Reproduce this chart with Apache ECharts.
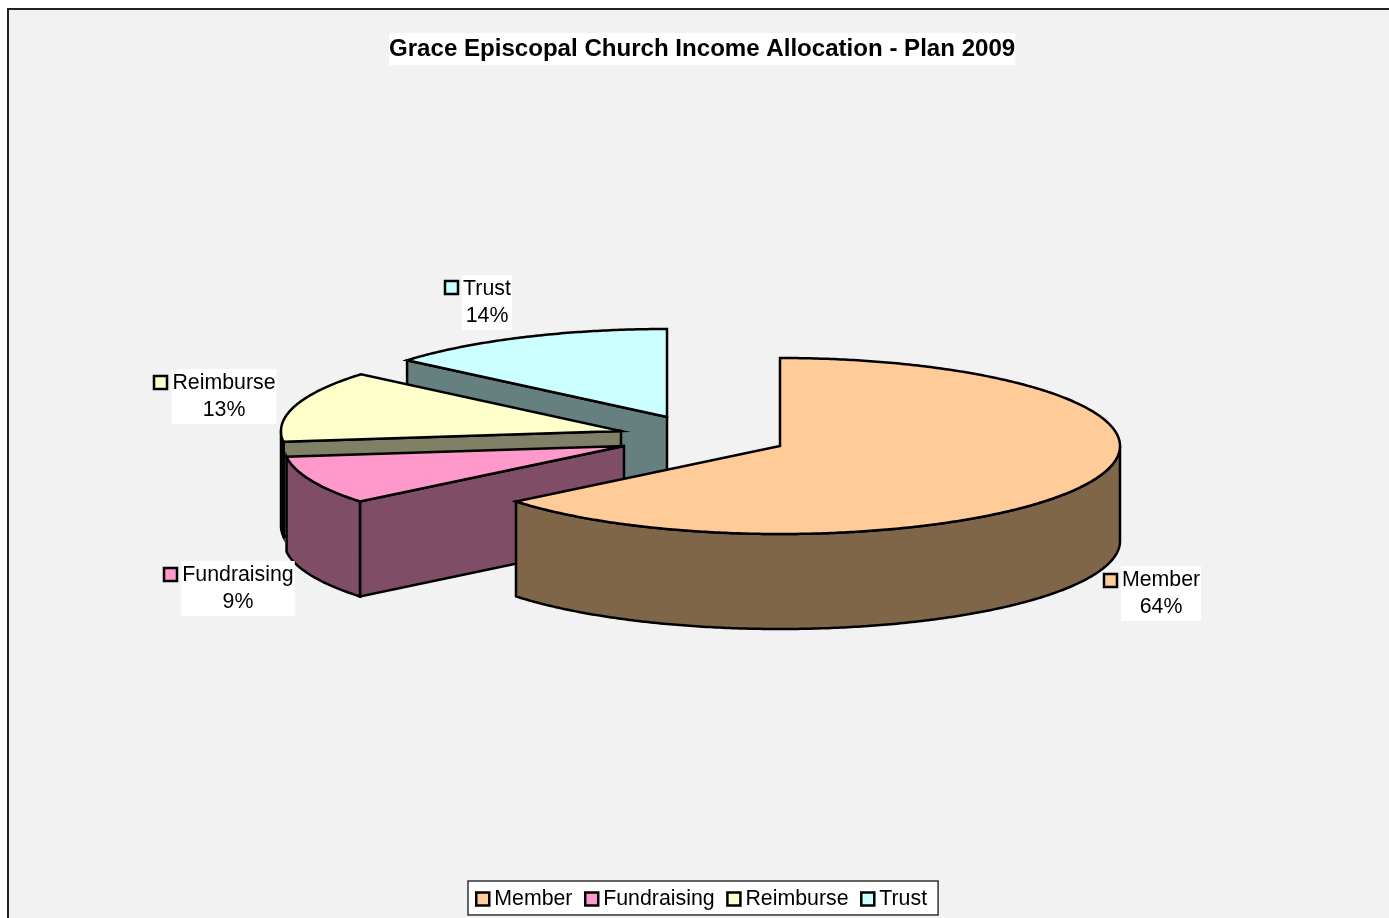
<!DOCTYPE html>
<html lang="en">
<head>
    <meta charset="UTF-8">
    <title>Grace Episcopal Church Income Allocation - Plan 2009</title>
    <script src="https://cdn.jsdelivr.net/npm/echarts@6/dist/echarts.min.js"></script>
    <style>
        html, body { margin: 0; padding: 0; background: #fff; }
    </style>
</head>
<body>
<div style="width:1389px;height:918px" id="myChart"></div>
<script type="text/javascript">
    // values (percent of income), clockwise from 12 o'clock
    // labels show them rounded: 64, 9, 13, 14
    var categories = ['Member', 'Fundraising', 'Reimburse', 'Trust'];
    var shares = [64.15, 8.9, 13.1, 13.85];

    // colours and layout, per slice
    var topColors = ['#FFCC99', '#FF99CC', '#FFFFCC', '#CCFFFF'];
    var sideColors = ['#806649', '#804D66', '#808066', '#668080'];
    var centers = [[780, 446], [624, 446], [621, 431], [667, 417]];
    var labelAnchors = [[1161, 566], [238, 561], [224, 369], [487, 275]]; // centre x, top
    var keyBoxes = [[1104, 574], [164, 568], [154, 376], [445, 281]];

    var RX = 340, RY = 88, DEPTH = 95;
    var FONT = '"Liberation Sans", Arial, sans-serif';
    var total = shares.reduce(function (a, b) { return a + b; }, 0);

    function rad(share) {
        return share / total * Math.PI * 2;
    }

    function rimPoint(c, angle, drop) {
        return [c[0] + RX * Math.sin(angle), c[1] - RY * Math.cos(angle) + drop];
    }

    function arcPoints(c, from, to, drop) {
        var pts = [];
        var n = Math.max(2, Math.ceil((to - from) / 0.01));
        for (var i = 0; i <= n; i++) {
            pts.push(rimPoint(c, from + (to - from) * i / n, drop));
        }
        return pts;
    }

    function poly(points, fill) {
        return {
            type: 'polygon',
            shape: { points: points },
            style: { fill: fill, stroke: '#000', lineWidth: 2.5, lineJoin: 'miter' }
        };
    }

    // one slice: radial faces that look at the viewer, rim wall, then the top
    function sliceItem(index, start, value) {
        var c = centers[index];
        var a = start, b = start + rad(value);
        var side = sideColors[index];
        var parts = [];

        if (Math.sin(a) < -1e-6) {
            var pa = rimPoint(c, a, 0);
            parts.push(poly([c, pa, [pa[0], pa[1] + DEPTH], [c[0], c[1] + DEPTH]], side));
        }
        if (Math.sin(b) > 1e-6) {
            var pb = rimPoint(c, b, 0);
            parts.push(poly([c, pb, [pb[0], pb[1] + DEPTH], [c[0], c[1] + DEPTH]], side));
        }
        var w0 = Math.max(a, Math.PI / 2), w1 = Math.min(b, Math.PI * 1.5);
        if (w1 > w0) {
            parts.push(poly(arcPoints(c, w0, w1, 0).concat(arcPoints(c, w0, w1, DEPTH).reverse()), side));
        }
        parts.push(poly([c].concat(arcPoints(c, a, b, 0)), topColors[index]));

        parts.push({
            type: 'rect',
            shape: { x: keyBoxes[index][0], y: keyBoxes[index][1], width: 13, height: 13 },
            style: { fill: topColors[index], stroke: '#000', lineWidth: 2.5 }
        });
        parts.push({
            type: 'text',
            x: labelAnchors[index][0],
            y: labelAnchors[index][1],
            style: {
                text: categories[index] + '\n' + Math.round(value) + '%',
                font: '21.33px ' + FONT,
                fill: '#000',
                align: 'center',
                lineHeight: 27.5,
                padding: [0, 1],
                backgroundColor: '#fff'
            }
        });
        return { type: 'group', children: parts };
    }

    var starts = [];
    shares.reduce(function (sum, v, i) {
        starts[i] = sum;
        return sum + rad(v);
    }, 0);

    var series = categories.map(function (name, i) {
        return {
            name: name,
            type: 'custom',
            coordinateSystem: 'none',
            animation: false,
            // back slices first, Member sits in front
            z: 10 - i,
            itemStyle: { color: topColors[i] },
            data: [[shares[i]]],
            renderItem: function (params, api) {
                return sliceItem(i, starts[i], api.value(0));
            }
        };
    });

    var myChart = echarts.init(document.getElementById('myChart'));
    myChart.setOption({
        animation: false,
        backgroundColor: '#fff',
        title: {
            text: 'Grace Episcopal Church Income Allocation - Plan 2009',
            left: 389,
            top: 33,
            padding: [4, 0, 4, 0],
            backgroundColor: '#fff',
            textStyle: { fontFamily: FONT, fontSize: 24.08, fontWeight: 'bold', color: '#000' }
        },
        legend: {
            data: categories,
            left: 468,
            top: 881,
            orient: 'horizontal',
            icon: 'rect',
            itemWidth: 13,
            itemHeight: 13,
            itemGap: 11.5,
            padding: [7.5, 11, 5.5, 7],
            backgroundColor: '#fff',
            borderColor: '#333',
            borderWidth: 1.5,
            itemStyle: { borderColor: '#000', borderWidth: 2.5 },
            textStyle: { fontFamily: FONT, fontSize: 21.33, color: '#000' }
        },
        graphic: [{
            type: 'rect',
            z: 0,
            silent: true,
            shape: { x: 8, y: 9, width: 1400, height: 930 },
            style: { fill: '#f2f2f2', stroke: '#222', lineWidth: 2 }
        }],
        series: series
    });
</script>
</body>
</html>
